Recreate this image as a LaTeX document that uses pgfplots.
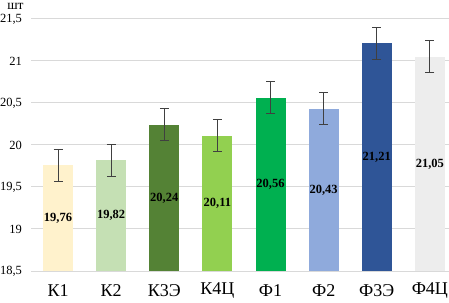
\documentclass[border=0pt]{standalone}
\usepackage{fontspec}
\setmainfont{Liberation Serif}
\usepackage{pgfplots}
\pgfplotsset{compat=1.18}
\definecolor{cK1}{HTML}{FFF2CC}
\definecolor{cK2}{HTML}{C5E0B4}
\definecolor{cK3}{HTML}{548235}
\definecolor{cK4}{HTML}{92D050}
\definecolor{cF1}{HTML}{00B050}
\definecolor{cF2}{HTML}{8FAADC}
\definecolor{cF3}{HTML}{2F5597}
\definecolor{cF4}{HTML}{EDEDED}
\definecolor{errc}{HTML}{404040}
\definecolor{gridc}{HTML}{D9D9D9}
\begin{document}
\begin{tikzpicture}
\begin{axis}[
  name=ax,
  scale only axis,
  width=417.5bp, height=252bp,
  xmin=-0.5, xmax=7.36,
  ymin=18.5, ymax=21.5,
  ytick={18.5,19,19.5,20,20.5,21,21.5},
  xtick={0,1,2,3,4,5,6,7},
  xticklabels={К1,К2,К3Э,К4Ц,Ф1,Ф2,Ф3Э,Ф4Ц},
  axis line style={draw=none},
  tick style={draw=none},
  ymajorgrids,
  major grid style={gridc, line width=1bp},
  /pgf/number format/.cd, fixed, precision=1, use comma, 1000 sep={}, assume math mode=true,
  /pgfplots/.cd,
  yticklabel style={font=\fontsize{12.5bp}{14bp}\selectfont, anchor=east, xshift=-6bp},
  xticklabel style={font=\fontsize{18bp}{20bp}\selectfont, anchor=center, yshift=-15bp},
  ybar, bar width=30bp,
  clip=false,
  error bars/y dir=both, error bars/y explicit,
  error bars/error bar style={errc, line width=1bp},
  error bars/error mark options={rotate=90, mark size=4.5bp, errc, line width=1bp},
]
\addplot[fill=cK1, draw=none, bar shift=0pt] coordinates {(0,19.76) +- (0,0.19)};
\addplot[fill=cK2, draw=none, bar shift=0pt] coordinates {(1,19.82) +- (0,0.19)};
\addplot[fill=cK3, draw=none, bar shift=0pt] coordinates {(2,20.24) +- (0,0.19)};
\addplot[fill=cK4, draw=none, bar shift=0pt] coordinates {(3,20.11) +- (0,0.19)};
\addplot[fill=cF1, draw=none, bar shift=0pt] coordinates {(4,20.56) +- (0,0.19)};
\addplot[fill=cF2, draw=none, bar shift=0pt] coordinates {(5,20.43) +- (0,0.19)};
\addplot[fill=cF3, draw=none, bar shift=0pt] coordinates {(6,21.21) +- (0,0.19)};
\addplot[fill=cF4, draw=none, bar shift=0pt] coordinates {(7,21.05) +- (0,0.19)};
\addplot[draw=none, mark=none, sharp plot, error bars/y dir=none,
  nodes near coords, point meta=explicit symbolic,
  every node near coord/.style={anchor=center, font=\bfseries\fontsize{12.5bp}{14bp}\selectfont, text=black}]
  table[meta=lab] {
x y lab
0 19.13 19,76
1 19.16 19,82
2 19.37 20,24
3 19.305 20,11
4 19.53 20,56
5 19.465 20,43
6 19.855 21,21
7 19.775 21,05
};
\node[font=\fontsize{13.5bp}{14bp}\selectfont, inner sep=0pt] at ([shift={(-16bp,12.5bp)}]rel axis cs:0,1) {шт};
\end{axis}
\pgfresetboundingbox
\path[use as bounding box] ([shift={(-31.5bp,-32bp)}]ax.south west) rectangle ([shift={(0bp,19bp)}]ax.north east);
\end{tikzpicture}
\end{document}
